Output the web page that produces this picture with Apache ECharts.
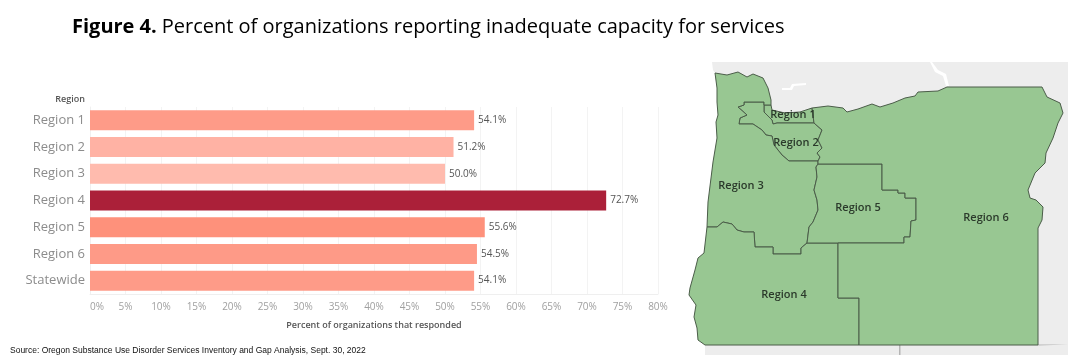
<!DOCTYPE html>
<html>
<head>
<meta charset="utf-8">
<style>
  html, body { margin: 0; padding: 0; background: #fff; }
  #main { width: 1090px; height: 361px; }
</style>
<script src="https://cdn.jsdelivr.net/npm/echarts@6/dist/echarts.min.js"></script>
</head>
<body>
<div id="main"></div>
<script>
// bar chart data
const regions = ['Region 1', 'Region 2', 'Region 3', 'Region 4', 'Region 5', 'Region 6', 'Statewide'];
const percents = [54.1, 51.2, 50.0, 72.7, 55.6, 54.5, 54.1];
const barColors = ['#fe9b88', '#ffb2a4', '#ffbbae', '#ab2039', '#fe917b', '#fe9a87', '#fe9b88'];

// map outlines (map units)
const columbiaWest = [[715,73],[727,75],[738,72],[747,77],[753,74],[763,78],[768,88],[771,100],[771,105]];
const columbiaEast = [[812,108],[828,106],[843,108],[847,112],[858,109],[872,104],[880,107],[893,103],[905,98],[915,96],[918,92],[938,91],[947,87],[1042,87],[1047,97],[1060,103],[1063,113],[1058,123],[1053,138],[1046,153],[1045,163],[1035,173],[1028,190],[1030,198],[1036,200],[1043,207],[1042,220],[1038,228],[1038,345],[859,345]];
const coastSouth = [[705,345],[698,340],[697,328],[694,317],[696,305],[689,295],[690,288],[695,270],[698,258],[704,253],[707,227]];
const coastNorth = [[708,202],[713,162],[717,138],[716,122],[718,115],[717,102],[717,88]];
const border34 = [[707,227],[717,227],[723,222],[732,224],[737,230],[744,232],[754,232],[755,247],[773,247],[773,254],[801,254],[801,248],[807,243]];
const border35 = [[818,164],[816,167],[817,177],[814,190],[817,200],[818,210],[813,222],[809,227],[807,243]];
const border26 = [[814,123],[822,130],[818,140],[822,148],[817,153],[820,157],[818,161]];
const border23 = [[764,105],[764,102],[744,102],[744,105],[738,107],[747,115],[740,118],[739,124],[753,124],[762,130],[766,135],[772,136],[774,145],[782,155],[789,161],[818,161]];
const border12 = [[764,105],[764,112],[772,120],[773,124],[777,123],[814,123]];
const border56 = [[838,243],[904,243],[904,237],[910,237],[911,221],[916,220],[916,198],[905,198],[905,193],[898,193],[898,190],[882,190],[882,164],[818,164]];
const border46 = [[838,243],[838,298],[859,298],[859,345]];

const rev = a => a.slice().reverse();
const regionShapes = {
  'Region 1': [[764,105],[771,105],[772,110],[785,113],[800,112],[812,108]].concat(rev(border12)),
  'Region 2': border23.concat(rev(border26), rev(border12)),
  'Region 3': columbiaWest.concat(border23, border35, rev(border34), coastNorth),
  'Region 4': border34.concat(border46, coastSouth),
  'Region 5': border56.concat(border35),
  'Region 6': columbiaEast.concat(rev(border46), border56, [[818,161]], rev(border26))
};
const regionLabelAt = {
  'Region 1': [793,115], 'Region 2': [796,143], 'Region 3': [741,186],
  'Region 4': [784,295], 'Region 5': [858,208], 'Region 6': [986,218]
};
// land around Oregon + the thin rivers / state lines on it
const backdropShapes = {
  land: [[712,62],[1068,62],[1068,355],[705,355],[705,345],[725,330],[725,90],[715,73],[713,70]],
  river1: [[932,62],[938,70],[946,74],[949,86],[946,86],[943,76],[935,72],[930,62]],
  river2: [[782,88],[790,88],[792,84],[806,83],[806,85],[794,86],[792,90],[782,90]],
  stateNV: [[899,345],[900.5,345],[900.5,355],[899,355]],
  stateID: [[1038,344.5],[1068,344.5],[1068,345.5],[1038,345.5]],
  stateWA: [[1037,62],[1038,62],[1043,87],[1042,87]]
};

function feature(name, ring, cp) {
  return {
    type: 'Feature',
    properties: cp ? { name: name, cp: cp } : { name: name },
    geometry: { type: 'Polygon', coordinates: [ring.concat([ring[0]])] }
  };
}

const features = Object.keys(backdropShapes).map(n => feature(n, backdropShapes[n]))
  .concat(Object.keys(regionShapes).map(n => feature(n, regionShapes[n], regionLabelAt[n])));
echarts.registerMap('oregon', { type: 'FeatureCollection', features: features });

const chart = echarts.init(document.getElementById('main'));
const tableauFont = '"Open Sans", "Noto Sans", sans-serif';

const backdropStyle = n => ({
  name: n,
  silent: true,
  label: { show: false },
  itemStyle: {
    borderWidth: 0,
    areaColor: n === 'land' ? '#ededed' : n.indexOf('river') === 0 ? '#ffffff' : '#b5b5b5'
  }
});

chart.setOption({
  animation: false,
  backgroundColor: '#fff',
  title: [
    {
      left: 72, top: 17, padding: 0,
      text: '{b|Figure 4.} {n|Percent of organizations reporting inadequate capacity for services}',
      textStyle: {
        fontWeight: 'normal',
        rich: {
          b: { fontFamily: '"Open Sans"', fontWeight: 'bold', fontSize: 20, color: '#000' },
          n: { fontFamily: '"Open Sans"', fontWeight: 'normal', fontSize: 20, color: '#000' }
        }
      }
    },
    {
      left: 10, top: 346, padding: 0,
      text: 'Source: Oregon Substance Use Disorder Services Inventory and Gap Analysis, Sept. 30, 2022',
      textStyle: { fontFamily: '"Liberation Sans"', fontWeight: 'normal', fontSize: 8.5, color: '#111' }
    }
  ],
  grid: { left: 90, top: 107, width: 568, height: 187 },
  xAxis: {
    type: 'value',
    min: 0,
    max: 80,
    interval: 5,
    name: 'Percent of organizations that responded',
    nameLocation: 'middle',
    nameGap: 27,
    nameTextStyle: { fontFamily: tableauFont, fontWeight: 600, fontSize: 9, color: '#555' },
    axisLine: { show: true, lineStyle: { color: '#efefef' } },
    axisTick: { show: false },
    axisLabel: {
      formatter: '{value}%',
      fontFamily: tableauFont,
      fontSize: 10,
      color: '#a0a0a0',
      margin: 8,
      alignMinLabel: 'left'
    },
    splitLine: { show: true, lineStyle: { color: '#f3f3f3' } }
  },
  yAxis: {
    type: 'category',
    inverse: true,
    data: regions,
    name: 'Region',
    nameLocation: 'start',
    nameGap: 3,
    nameTextStyle: { fontFamily: tableauFont, fontWeight: 600, fontSize: 9, color: '#555', align: 'right', padding: [0, 5, 0, 0] },
    axisLine: { show: true, lineStyle: { color: '#f0f0f0' } },
    axisTick: { show: false },
    axisLabel: { fontFamily: tableauFont, fontSize: 13, color: '#8c8c8c', margin: 5 }
  },
  geo: {
    map: 'oregon',
    projection: { project: p => p, unproject: p => p },
    left: 689,
    top: 62,
    width: 379,
    height: 293,
    roam: false,
    silent: true,
    itemStyle: { areaColor: '#98c792', borderColor: '#4b5d49', borderWidth: 1 },
    label: { show: true, fontFamily: tableauFont, fontWeight: 600, fontSize: 11, color: '#2b3a2b' },
    emphasis: { disabled: true },
    regions: Object.keys(backdropShapes).map(backdropStyle)
  },
  series: [
    {
      type: 'bar',
      data: percents,
      barWidth: 20,
      itemStyle: {
        color: p => barColors[p.dataIndex]
      },
      label: {
        show: true,
        position: 'right',
        distance: 4,
        formatter: p => p.value.toFixed(1) + '%',
        fontFamily: tableauFont,
        fontSize: 10,
        color: '#555'
      }
    }
  ]
});
</script>
</body>
</html>
